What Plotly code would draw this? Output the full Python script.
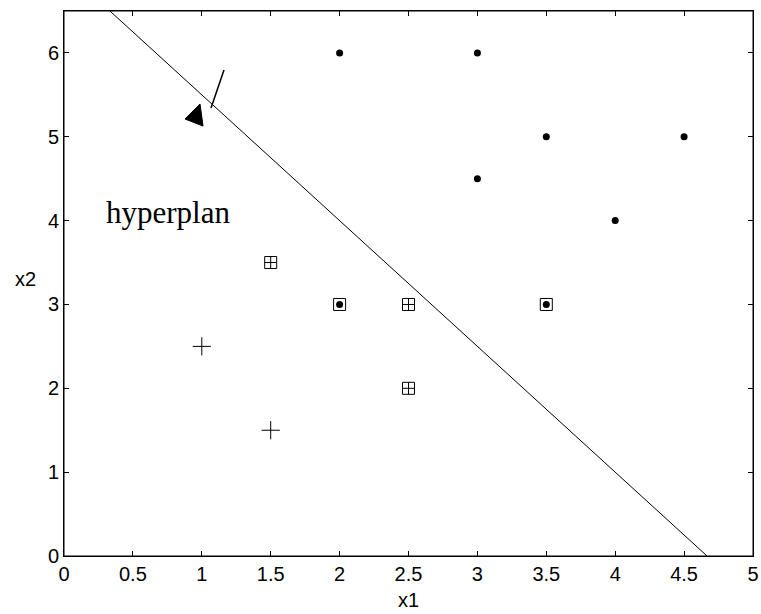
import plotly.graph_objects as go

# class A (filled dots)
dots_x1 = [2, 3, 3.5, 4.5, 3, 4, 2, 3.5]
dots_x2 = [6, 6, 5, 5, 4.5, 4, 3, 3]
# class B (plus signs, not support vectors)
plus_x1 = [1, 1.5]
plus_x2 = [2.5, 1.5]
# support vectors (boxed)
sv_dot_x1 = [2, 3.5]
sv_dot_x2 = [3, 3]
sv_plus_x1 = [1.5, 2.5, 2.5]
sv_plus_x2 = [3.5, 3, 2]
# hyperplane  w1*x1 + w2*x2 + b = 0
w = [1.5, 1.0]
b = -7.0
hyper_x1 = [(b + w[1] * 6.5) / -w[0], -b / w[0]]
hyper_x2 = [(-b - w[0] * x) / w[1] for x in hyper_x1]
# annotation arrow (data coordinates)
arrow_line_x1 = [1.161, 1.067]
arrow_line_x2 = [5.796, 5.343]
arrow_head_x1 = [0.878, 0.987, 1.009]
arrow_head_x2 = [5.212, 5.391, 5.128]
label_text = "hyperplan"
label_pos = [0.29, 4.10]

x_ticks = [0, 0.5, 1, 1.5, 2, 2.5, 3, 3.5, 4, 4.5, 5]
x_ticklabels = ["0", "0.5", "1", "1.5", "2", "2.5", "3", "3.5", "4", "4.5", "5"]
y_ticks = [0, 1, 2, 3, 4, 5, 6]
y_ticklabels = ["0", "1", "2", "3", "4", "5", "6"]

SANS = "Liberation Sans, Arial, sans-serif"
FS = 20

fig = go.Figure()
fig.add_trace(go.Scatter(x=hyper_x1, y=hyper_x2, mode="lines",
                         line=dict(color="black", width=1), hoverinfo="skip"))
fig.add_trace(go.Scatter(x=dots_x1, y=dots_x2, mode="markers",
                         marker=dict(symbol="circle", size=7, color="black")))
fig.add_trace(go.Scatter(x=plus_x1, y=plus_x2, mode="markers",
                         marker=dict(symbol="cross-thin-open", size=13, color="black",
                                     line=dict(color="black", width=1))))
fig.add_trace(go.Scatter(x=sv_plus_x1, y=sv_plus_x2, mode="markers",
                         marker=dict(symbol="square-cross-open", size=12, color="black",
                                     line=dict(color="black", width=1))))
fig.add_trace(go.Scatter(x=sv_dot_x1, y=sv_dot_x2, mode="markers",
                         marker=dict(symbol="square-open", size=12, color="black",
                                     line=dict(color="black", width=1))))

# arrow
fig.add_shape(type="line", xref="x", yref="y",
              x0=arrow_line_x1[0], y0=arrow_line_x2[0],
              x1=arrow_line_x1[1], y1=arrow_line_x2[1],
              line=dict(color="black", width=1.5))
path = "M {},{} L {},{} L {},{} Z".format(arrow_head_x1[0], arrow_head_x2[0],
                                          arrow_head_x1[1], arrow_head_x2[1],
                                          arrow_head_x1[2], arrow_head_x2[2])
fig.add_shape(type="path", xref="x", yref="y", path=path,
              fillcolor="black", line=dict(color="black", width=1))
# frame
fig.add_shape(type="rect", xref="paper", yref="paper", x0=0, y0=0, x1=1, y1=1,
              line=dict(color="black", width=1), layer="above")

fig.add_annotation(x=label_pos[0], y=label_pos[1], text=label_text, showarrow=False,
                   xanchor="left", yanchor="middle",
                   font=dict(family="Liberation Serif, Times New Roman, serif", size=31, color="black"))
fig.add_annotation(x=-39 / 689, y=3.3, xref="paper", yref="y", text="x2", showarrow=False,
                   xanchor="center", yanchor="middle",
                   font=dict(family=SANS, size=FS, color="black"))

axis_common = dict(showgrid=False, zeroline=False, showline=True, linecolor="black",
                   linewidth=1, mirror="ticks", ticks="inside", ticklen=5,
                   tickcolor="black", tickwidth=1, automargin=False,
                   tickfont=dict(family=SANS, size=FS, color="black"))

fig.update_layout(
    width=761, height=614,
    margin=dict(l=64, r=8, t=11, b=58),
    plot_bgcolor="white", paper_bgcolor="white",
    showlegend=False,
    xaxis=dict(range=[0, 5], tickvals=x_ticks, ticktext=x_ticklabels,
               title=dict(text="x1", standoff=8, font=dict(family=SANS, size=FS, color="black")),
               **axis_common),
    yaxis=dict(range=[0, 6.5], tickvals=y_ticks, ticktext=y_ticklabels, **axis_common),
)
fig.write_html("out.html", config={"displayModeBar": False},
               post_script="document.body.style.margin='0';document.body.style.overflow='hidden';")
